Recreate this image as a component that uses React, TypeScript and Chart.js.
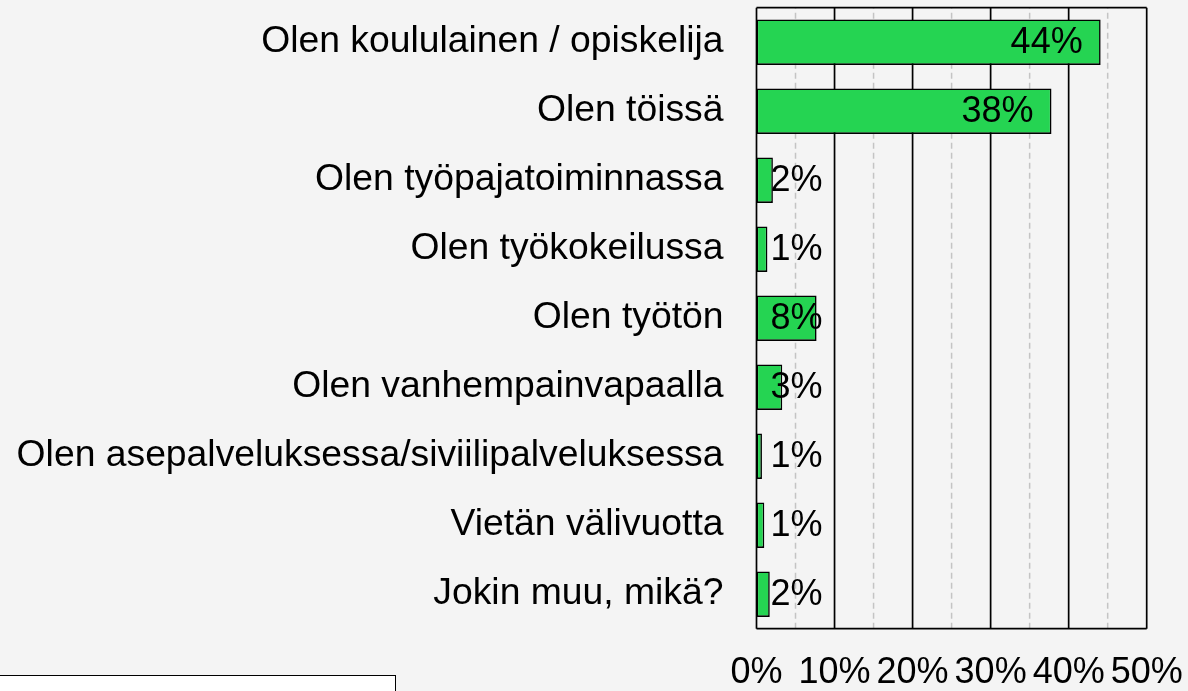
import React, { useEffect, useRef } from "react";
import { Chart, registerables } from "chart.js";

Chart.register(...registerables);

const categories: string[] = [
  "Olen koululainen / opiskelija",
  "Olen töissä",
  "Olen työpajatoiminnassa",
  "Olen työkokeilussa",
  "Olen työtön",
  "Olen vanhempainvapaalla",
  "Olen asepalveluksessa/siviilipalveluksessa",
  "Vietän välivuotta",
  "Jokin muu, mikä?",
];
const values: number[] = [44.1, 37.8, 2.1, 1.4, 7.7, 3.3, 0.7, 1.0, 1.7];
const valueLabels: string[] = ["44%", "38%", "2%", "1%", "8%", "3%", "1%", "1%", "2%"];
const xTicks: number[] = [0, 10, 20, 30, 40, 50];
const xMinorTicks: number[] = [5, 15, 25, 35, 45];

const FONT = "'Liberation Sans', Arial, sans-serif";
const BG = "#f4f4f4";

function zeroPad(scale: any) {
  scale.paddingTop = 0;
  scale.paddingBottom = 0;
  scale.paddingLeft = 0;
  scale.paddingRight = 0;
}

export default function App() {
  const ref = useRef<HTMLCanvasElement | null>(null);

  useEffect(() => {
    document.body.style.margin = "0";
    document.body.style.background = BG;
    const canvas = ref.current;
    if (!canvas) return;

    const bgPlugin = {
      id: "bg",
      beforeDraw(chart: any) {
        const c = chart.ctx;
        c.save();
        c.fillStyle = BG;
        c.fillRect(0, 0, chart.width, chart.height);
        c.restore();
      },
    };

    const gridPlugin = {
      id: "customGrid",
      beforeDatasetsDraw(chart: any) {
        const c = chart.ctx;
        const xs = chart.scales.x;
        const { top, bottom, left, right } = chart.chartArea;
        c.save();
        c.strokeStyle = "#c4c4c4";
        c.lineWidth = 1.5;
        c.setLineDash([6, 4]);
        for (const v of xMinorTicks) {
          const px = xs.getPixelForValue(v);
          c.beginPath();
          c.moveTo(px, bottom);
          c.lineTo(px, top);
          c.stroke();
        }
        c.setLineDash([]);
        c.strokeStyle = "#000";
        c.lineWidth = 1.7;
        for (const v of xTicks) {
          const px = xs.getPixelForValue(v);
          c.beginPath();
          c.moveTo(px, top);
          c.lineTo(px, bottom);
          c.stroke();
        }
        c.beginPath();
        c.moveTo(left, top);
        c.lineTo(right, top);
        c.moveTo(left, bottom);
        c.lineTo(right, bottom);
        c.stroke();
        c.restore();
      },
    };

    const labelPlugin = {
      id: "valueLabels",
      afterDatasetsDraw(chart: any) {
        const c = chart.ctx;
        const xs = chart.scales.x;
        const meta = chart.getDatasetMeta(0);
        const zero = xs.getPixelForValue(0);
        c.save();
        c.font = `36px ${FONT}`;
        c.fillStyle = "#000";
        c.textAlign = "right";
        c.textBaseline = "middle";
        meta.data.forEach((bar: any, i: number) => {
          const xr = Math.max(bar.x - 18, zero + 66);
          c.fillText(valueLabels[i], xr, bar.y + 1);
        });
        c.restore();
      },
    };

    const chart = new Chart(canvas, {
      type: "bar",
      data: {
        labels: categories,
        datasets: [
          {
            data: values,
            backgroundColor: "#25d452",
            borderColor: "#000",
            borderWidth: 1.6,
            borderSkipped: false,
            categoryPercentage: 0.66,
            barPercentage: 1,
          },
        ],
      },
      options: {
        indexAxis: "y",
        responsive: false,
        animation: false,
        layout: { padding: { top: 7.7, right: 41.3, left: 0, bottom: 0 } },
        plugins: {
          legend: { display: false },
          tooltip: { enabled: false },
        },
        scales: {
          x: {
            min: 0,
            max: 50,
            afterBuildTicks(scale: any) {
              scale.ticks = xTicks.map((v) => ({ value: v }));
            },
            afterFit(scale: any) {
              scale.height = 62.3;
              zeroPad(scale);
            },
            grid: { display: false, drawTicks: false },
            border: { display: false },
            ticks: {
              padding: 23,
              color: "#000",
              font: { family: FONT, size: 36 },
              maxRotation: 0,
              autoSkip: false,
              callback: (v: any) => `${v}%`,
            },
          },
          y: {
            afterFit(scale: any) {
              scale.width = 756.5;
              zeroPad(scale);
            },
            grid: { display: false, drawTicks: false },
            border: { display: false },
            ticks: {
              padding: 33,
              color: "#000",
              font: { family: FONT, size: 37.3 },
              autoSkip: false,
            },
          },
        },
      },
      plugins: [bgPlugin, gridPlugin, labelPlugin],
    });

    return () => chart.destroy();
  }, []);

  return (
    <div style={{ position: "relative", width: 1188, height: 691, overflow: "hidden", background: BG }}>
      <canvas ref={ref} width={1188} height={691} style={{ display: "block" }} />
      <div
        style={{
          position: "absolute",
          left: -2,
          top: 675,
          width: 398,
          height: 40,
          background: "#fff",
          border: "1.5px solid #000",
          boxSizing: "border-box",
        }}
      />
    </div>
  );
}
